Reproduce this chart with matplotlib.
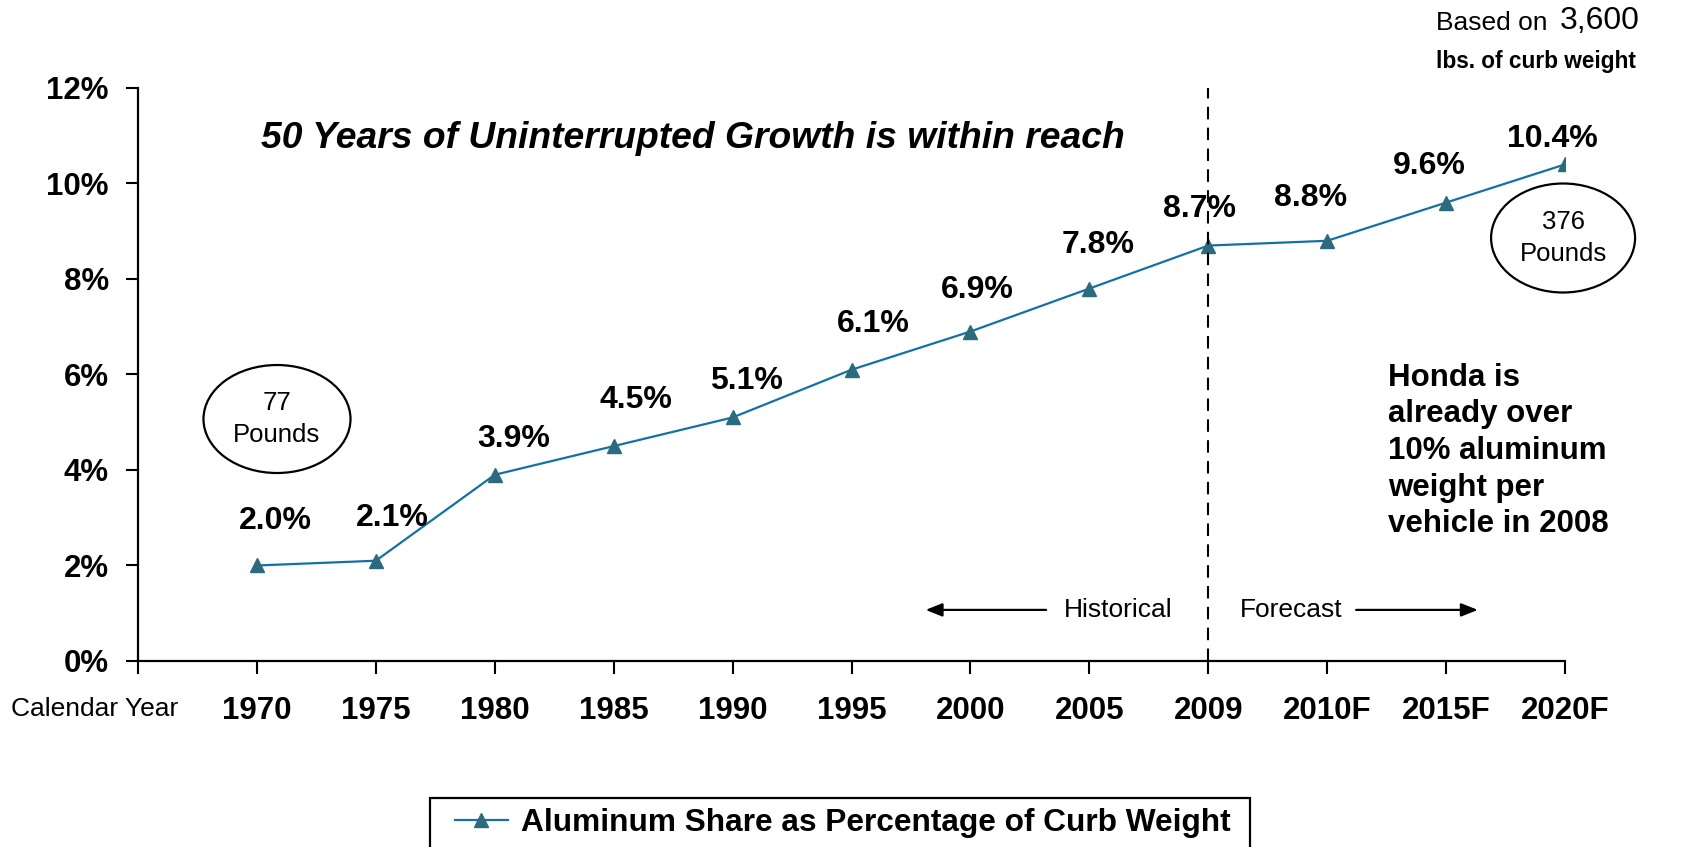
import matplotlib
matplotlib.use("Agg")
import matplotlib.pyplot as plt
import matplotlib.patches as patches
import numpy as np

plt.rcParams['font.family'] = ['Liberation Sans', 'DejaVu Sans']

years = ["1970", "1975", "1980", "1985", "1990", "1995", "2000", "2005", "2009", "2010F", "2015F", "2020F"]
share = [2.0, 2.1, 3.9, 4.5, 5.1, 6.1, 6.9, 7.8, 8.7, 8.8, 9.6, 10.4]
share_labels = ["2.0%", "2.1%", "3.9%", "4.5%", "5.1%", "6.1%", "6.9%", "7.8%", "8.7%", "8.8%", "9.6%", "10.4%"]
y_ticks = [0, 2, 4, 6, 8, 10, 12]
y_tick_labels = ["0%", "2%", "4%", "6%", "8%", "10%", "12%"]
split_year = "2009"

# label offsets in points (layout only)
label_offsets = [(13, 32), (12, 31), (14, 26), (16, 33), (10, 26), (16, 33),
                 (5, 30), (6, 31), (-6, 26), (-12, 31), (-12, 26), (-9, 18)]

line_col = '#1570a6'
marker_col = '#2b6b7d'

fig = plt.figure(figsize=(16.9, 8.47), dpi=100)
ax = fig.add_axes([0.08166, 0.21960, 0.84438, 0.67651])

x = np.arange(len(years))
ax.plot(x, share, color=line_col, lw=1.6, marker='^', markersize=10,
        markerfacecolor=marker_col, markeredgecolor=marker_col,
        label="Aluminum Share as Percentage of Curb Weight")

for i in range(len(x)):
    ax.annotate(share_labels[i], (x[i], share[i]), xytext=label_offsets[i],
                textcoords='offset points', ha='center', va='center',
                fontsize=23, fontweight='bold')

ax.set_xlim(-1, len(years) - 1)
ax.set_ylim(0, 12)
ax.set_yticks(y_ticks)
ax.set_yticklabels(y_tick_labels, fontsize=22.5, fontweight='bold')
ax.set_xticks(np.arange(-1, len(years)))
ax.set_xticklabels([""] + years, fontsize=22.5, fontweight='bold')
ax.tick_params(axis='y', length=9, width=1.5, pad=12)
ax.tick_params(axis='x', length=9, width=1.5, pad=16)
for s in ['top', 'right']:
    ax.spines[s].set_visible(False)
for s in ['left', 'bottom']:
    ax.spines[s].set_linewidth(1.6)

# historical / forecast split
xs = years.index(split_year)
ax.axvline(xs, color='black', lw=1.5, ls=(0, (6, 4)))
ax.annotate('', xy=(5.6, 1.07), xytext=(6.66, 1.07),
            arrowprops=dict(arrowstyle='-|>,head_length=1.0,head_width=0.4', color='black', lw=1.6))
ax.annotate('', xy=(10.29, 1.07), xytext=(9.22, 1.07),
            arrowprops=dict(arrowstyle='-|>,head_length=1.0,head_width=0.4', color='black', lw=1.6))
ax.text(7.24, 1.07, "Historical", ha='center', va='center', fontsize=19)
ax.text(8.70, 1.07, "Forecast", ha='center', va='center', fontsize=19)

# headline and notes
fig.text(0.4098, 0.836, "50 Years of Uninterrupted Growth is within reach",
         ha='center', va='center', fontsize=26.8, fontweight='bold', style='italic')
fig.text(0.8213, 0.572, "Honda is\nalready over\n10% aluminum\nweight per\nvehicle in 2008",
         ha='left', va='top', fontsize=22.5, fontweight='bold', linespacing=1.29)
fig.text(0.8497, 0.973, "Based on", ha='left', va='center', fontsize=19)
fig.text(0.9231, 0.975, "3,600", ha='left', va='center', fontsize=23)
fig.text(0.8497, 0.927, "lbs. of curb weight", ha='left', va='center', fontsize=16.3, fontweight='bold')
fig.text(0.0065, 0.163, "Calendar Year", ha='left', va='center', fontsize=19)

# pound callouts
for cx, cy, w, h, txt in [(0.1639, 0.5053, 0.087, 0.1275, "77\nPounds"),
                          (0.9249, 0.719, 0.0852, 0.1287, "376\nPounds")]:
    e = patches.Ellipse((cx, cy), w, h, transform=fig.transFigure, fill=False,
                        edgecolor='black', lw=1.6)
    fig.patches.append(e)
    fig.text(cx, cy, txt, ha='center', va='center', fontsize=18.5, linespacing=1.39)

# legend box, cut off by the bottom edge
box = patches.Rectangle((430 / 1690, -0.05), 820 / 1690, 0.05 + 49 / 847,
                        transform=fig.transFigure, fill=False, edgecolor='black', lw=1.6)
fig.patches.append(box)
leg = fig.legend(loc='center left', bbox_to_anchor=(455 / 1690, 1 - 823 / 847),
                 frameon=False, borderpad=0, borderaxespad=0, handlelength=1.66,
                 handletextpad=0.42, prop={'size': 22.8, 'weight': 'bold'})

fig.savefig("out.png", dpi=100)
